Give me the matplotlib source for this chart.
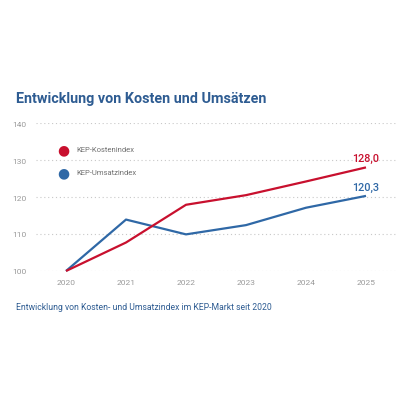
import matplotlib
matplotlib.use("Agg")
import matplotlib.pyplot as plt

years = [2020, 2021, 2022, 2023, 2024, 2025]
kosten = [100.0, 107.7, 117.9, 120.5, 124.2, 128.0]
umsatz = [100.0, 113.9, 109.9, 112.4, 117.1, 120.3]
yticks = [100, 110, 120, 130, 140]
title = "Entwicklung von Kosten und Umsätzen"
caption = "Entwicklung von Kosten- und Umsatzindex im KEP-Markt seit 2020"
legend_labels = ["KEP-Kostenindex", "KEP-Umsatzindex"]

RED = "#c8102e"
BLUE = "#2f68a6"
TITLE_BLUE = "#2e5c92"
GREY = "#9a9a9a"

plt.rcParams['font.family'] = ['Roboto', 'DejaVu Sans']

W = H = 410
fig = plt.figure(figsize=(4.1, 4.1), dpi=100)
fig.patch.set_facecolor("white")
ax = fig.add_axes([36 / W, 1 - 272 / H, 360 / W, 148 / H])
ax.set_xlim(2019.5, 2025.5)
ax.set_ylim(100, 140)
for s in ax.spines.values():
    s.set_visible(False)
ax.set_yticks(yticks)
ax.set_xticks(years)
ax.tick_params(length=0, labelsize=6.0, colors=GREY, pad=7)
ax.tick_params(axis='x', pad=6)
for y in yticks:
    ax.axhline(y, color="#c8c8c8", lw=0.8, ls=(0, (1, 2.5)), zorder=0)

ax.plot(years, kosten, color=RED, lw=1.6, clip_on=False, zorder=3, solid_capstyle='butt')
ax.plot(years, umsatz, color=BLUE, lw=1.6, clip_on=False, zorder=2, solid_capstyle='butt')

ax.annotate(f"{kosten[-1]:.1f}".replace(".", ","), (years[-1], kosten[-1]),
            xytext=(0, 3), textcoords="offset points", ha="center", va="bottom",
            color=RED, fontsize=7.8, fontweight="medium")
ax.annotate(f"{umsatz[-1]:.1f}".replace(".", ","), (years[-1], umsatz[-1]),
            xytext=(0, 3), textcoords="offset points", ha="center", va="bottom",
            color=BLUE, fontsize=7.8, fontweight="medium")

# legend
for i, (lab, col) in enumerate(zip(legend_labels, [RED, BLUE])):
    yy = 1 - (150 + 23 * i) / H
    fig.text(63 / W, yy, "●", color=col, fontsize=10, ha="center", va="center",
             family="DejaVu Sans")
    fig.text(76 / W, yy, lab, color="#707070", fontsize=5.5, ha="left", va="center")

fig.text(16 / W, 1 - 99 / H, title, color=TITLE_BLUE, fontsize=10.4,
         fontweight="bold", ha="left", va="center")
fig.text(16 / W, 1 - 308 / H, caption, color=TITLE_BLUE, fontsize=6.2,
         ha="left", va="center")

fig.savefig("out.png", dpi=100, facecolor="white")
